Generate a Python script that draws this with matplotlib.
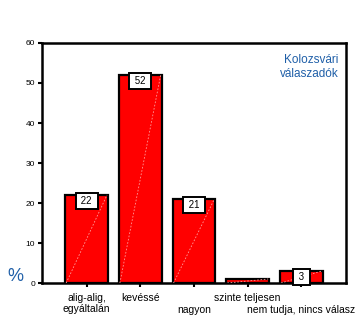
import matplotlib
matplotlib.use("Agg")
import matplotlib.pyplot as plt
from matplotlib.transforms import blended_transform_factory, ScaledTranslation

plt.rcParams['font.family'] = ['Liberation Sans', 'DejaVu Sans']

categories = ['alig-alig,\negyáltalán', 'kevéssé', 'nagyon',
              'szinte teljesen', 'nem tudja, nincs válasz']
label_row = [0, 0, 1, 0, 1]
values = [22, 52, 21, 1, 3]
shown_labels = [True, True, True, False, True]
yticks = [0, 10, 20, 30, 40, 50, 60]

blue = '#1f5fa8'

fig = plt.figure(figsize=(3.6, 3.25), dpi=100)
ax = fig.add_axes([0.1167, 0.1292, 0.8443, 0.7385])

x = list(range(len(values)))
bars = ax.bar(x, values, width=0.8, color='#ff0000', edgecolor='black', linewidth=1.6, zorder=2)

# faint diagonal line inside each bar
for b in bars:
    x0, w, h = b.get_x(), b.get_width(), b.get_height()
    ax.plot([x0 + 0.02, x0 + w - 0.02], [0, h], color='#ff9a9a', lw=0.6,
            ls=(0, (2, 2)), zorder=3)

for xi, v, show in zip(x, values, shown_labels):
    if not show:
        continue
    ax.text(xi, v - 0.3, f' {v} ', ha='center', va='top', fontsize=7, zorder=4,
            bbox=dict(boxstyle='square,pad=0.3', fc='white', ec='black', lw=1.4))

ax.set_xlim(-0.83, 4.83)
ax.set_ylim(0, 60)
ax.set_yticks(yticks)
ax.set_xticks(x)
ax.set_xticklabels([])
ax.tick_params(axis='y', labelsize=6, length=3, width=1.5, pad=2)
ax.tick_params(axis='x', length=3, width=1.5)

# category labels on two staggered rows
trans = blended_transform_factory(ax.transData, ax.transAxes)
for xi, lab, row in zip(x, categories, label_row):
    off = ScaledTranslation(0, -(10 + 11.5 * row) / 100, fig.dpi_scale_trans)
    ax.text(xi, 0, lab, transform=trans + off, ha='center', va='top',
            fontsize=7.5, linespacing=1.15)

for s in ax.spines.values():
    s.set_linewidth(1.8)

fig.text(0.042, 0.148, '%', color=blue, fontsize=13, ha='center', va='center')
ax.text(0.975, 0.955, 'Kolozsvári\nválaszadók', transform=ax.transAxes, color=blue,
        fontsize=8.5, ha='right', va='top', linespacing=1.2)

fig.savefig('out.png', dpi=100)
